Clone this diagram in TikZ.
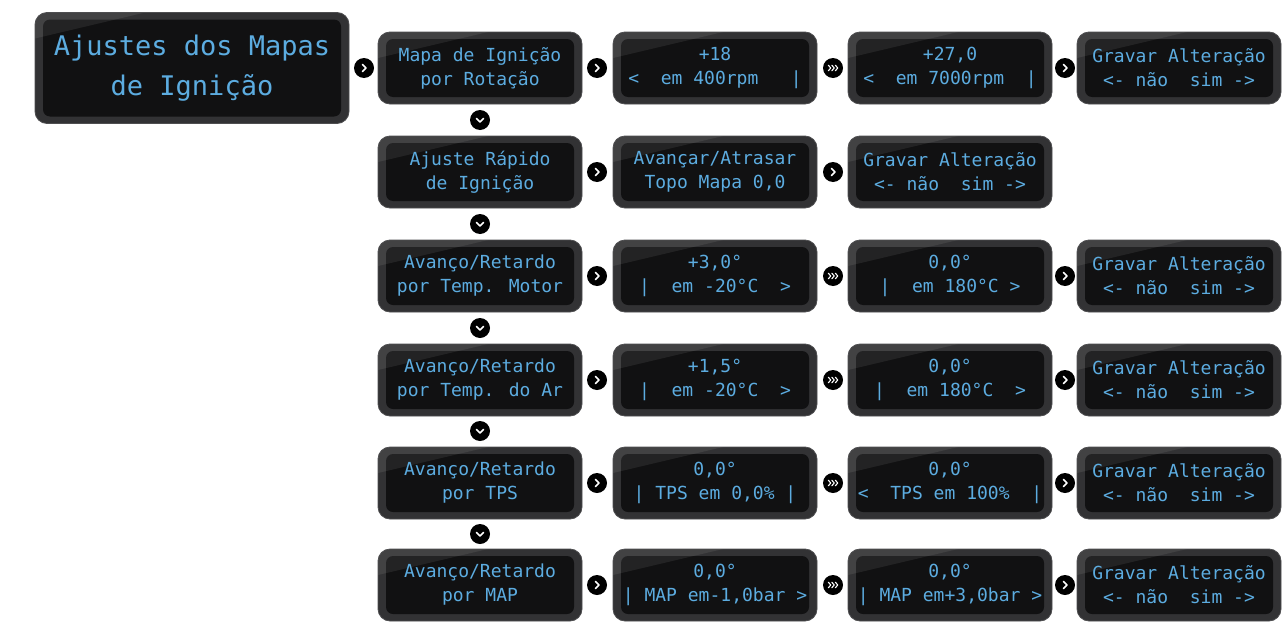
\documentclass[tikz,border=0pt]{standalone}
\usepackage{fontspec}
\newfontfamily\lcdfont{DejaVu Sans Mono}
\usetikzlibrary{positioning}

\definecolor{lcdblue}{RGB}{92,172,224}
\definecolor{screen}{RGB}{17,17,18}
\definecolor{bezel}{RGB}{50,50,52}
\definecolor{rim}{RGB}{78,78,80}

\begin{document}
\begin{tikzpicture}[x=1pt, y=-1pt,
    lcd/.style={rectangle, rounded corners=12pt, fill=bezel, draw=rim, line width=0.8pt,
        minimum width=204pt, minimum height=72pt, inner sep=0pt, align=center,
        text=lcdblue, font=\lcdfont\fontsize{18}{24}\selectfont,
        path picture={
            \fill[screen, rounded corners=7pt]
                ([shift={(8pt,-7pt)}]path picture bounding box.north west) rectangle
                ([shift={(-8pt,7pt)}]path picture bounding box.south east);
            \fill[white, opacity=0.08, sharp corners]
                (path picture bounding box.north west) --
                ([xshift=110pt]path picture bounding box.north west) --
                ([yshift=-26pt]path picture bounding box.north west) -- cycle;
        }},
    lcdbig/.style={lcd, minimum width=314pt, minimum height=111pt,
        font=\lcdfont\fontsize{27}{40}\selectfont},
    btn/.style={circle, fill=black, minimum size=20pt, inner sep=0pt},
    nxt/.style={btn, path picture={
        \draw[white, line width=1.5pt, line cap=round, line join=round]
            ([shift={(-1.5pt,3.5pt)}]path picture bounding box.center) --
            ([shift={(2pt,0pt)}]path picture bounding box.center) --
            ([shift={(-1.5pt,-3.5pt)}]path picture bounding box.center);}},
    fwd/.style={btn, path picture={
        \draw[white, line width=1.1pt, line cap=round, line join=round]
            ([shift={(-4.7pt,2.8pt)}]path picture bounding box.center) --
            ([shift={(-2.2pt,0pt)}]path picture bounding box.center) --
            ([shift={(-4.7pt,-2.8pt)}]path picture bounding box.center)
            ([shift={(-1.2pt,2.8pt)}]path picture bounding box.center) --
            ([shift={(1.3pt,0pt)}]path picture bounding box.center) --
            ([shift={(-1.2pt,-2.8pt)}]path picture bounding box.center)
            ([shift={(2.3pt,2.8pt)}]path picture bounding box.center) --
            ([shift={(4.8pt,0pt)}]path picture bounding box.center) --
            ([shift={(2.3pt,-2.8pt)}]path picture bounding box.center);}},
    dwn/.style={btn, path picture={
        \draw[white, line width=1.5pt, line cap=round, line join=round]
            ([shift={(-3.5pt,1.5pt)}]path picture bounding box.center) --
            ([shift={(0pt,-2pt)}]path picture bounding box.center) --
            ([shift={(3.5pt,1.5pt)}]path picture bounding box.center);}}]

    % --- grade da figura (px) ---
    \def\xA{480}   % coluna do menu
    \def\xB{715}   % primeiro valor
    \def\xC{950}   % segundo valor
    \def\xD{1179}  % gravar
    \def\gA{597}   % botoes entre colunas
    \def\gB{833}
    \def\gC{1065}
    \def\rA{68}  \def\rB{172} \def\rC{276}
    \def\rD{380} \def\rE{483} \def\rF{585}

    % --- area da figura ---
    \fill[white] (0,0) rectangle (1282,621);
    \useasboundingbox (0,0) rectangle (1282,621);

    % --- menu principal ---
    \node[lcdbig] (ajustes) at (192,\rA) {Ajustes dos Mapas\\de Ignição};
    \node[nxt] (bt0) at (364,\rA) {};

    % --- mapa por rotacao ---
    \node[lcd] (rot) at (\xA,\rA) {Mapa de Ignição\\por Rotação};
    \node[nxt] (bt1a) at (\gA,\rA) {};
    \node[lcd] (rotlo) at (\xB,\rA) {+18\\<~~em~400rpm~~~|};
    \node[fwd] (bt1b) at (\gB,\rA) {};
    \node[lcd] (rothi) at (\xC,\rA) {+27,0\\<~~em~7000rpm~~|};
    \node[nxt] (bt1c) at (\gC,\rA) {};
    \node[lcd] (rotsave) at (\xD,\rA) {Gravar Alteração\\<-~não~~sim~->};

    \node[dwn] (dn1) at (\xA,120) {};

    % --- ajuste rapido ---
    \node[lcd] (rapido) at (\xA,\rB) {Ajuste Rápido\\de Ignição};
    \node[nxt] (bt2a) at (\gA,\rB) {};
    \node[lcd] (rapidoval) at (\xB,\rB) {Avançar/Atrasar\\Topo Mapa 0,0};
    \node[nxt] (bt2b) at (\gB,\rB) {};
    \node[lcd] (rapidosave) at (\xC,\rB) {Gravar Alteração\\<-~não~~sim~->};

    \node[dwn] (dn2) at (\xA,224) {};

    % --- temperatura do motor ---
    \node[lcd] (motor) at (\xA,\rC) {Avanço/Retardo\\por Temp. Motor};
    \node[nxt] (bt3a) at (\gA,\rC) {};
    \node[lcd] (motorlo) at (\xB,\rC) {+3,0°\\|~~em~-20°C~~>};
    \node[fwd] (bt3b) at (\gB,\rC) {};
    \node[lcd] (motorhi) at (\xC,\rC) {0,0°\\|~~em~180°C~>};
    \node[nxt] (bt3c) at (\gC,\rC) {};
    \node[lcd] (motorsave) at (\xD,\rC) {Gravar Alteração\\<-~não~~sim~->};

    \node[dwn] (dn3) at (\xA,328) {};

    % --- temperatura do ar ---
    \node[lcd] (ar) at (\xA,\rD) {Avanço/Retardo\\por Temp. do Ar};
    \node[nxt] (bt4a) at (\gA,\rD) {};
    \node[lcd] (arlo) at (\xB,\rD) {+1,5°\\|~~em~-20°C~~>};
    \node[fwd] (bt4b) at (\gB,\rD) {};
    \node[lcd] (arhi) at (\xC,\rD) {0,0°\\|~~em~180°C~~>};
    \node[nxt] (bt4c) at (\gC,\rD) {};
    \node[lcd] (arsave) at (\xD,\rD) {Gravar Alteração\\<-~não~~sim~->};

    \node[dwn] (dn4) at (\xA,431) {};

    % --- TPS ---
    \node[lcd] (tps) at (\xA,\rE) {Avanço/Retardo\\por TPS};
    \node[nxt] (bt5a) at (\gA,\rE) {};
    \node[lcd] (tpslo) at (\xB,\rE) {0,0°\\|~TPS~em~0,0\%~|};
    \node[fwd] (bt5b) at (\gB,\rE) {};
    \node[lcd] (tpshi) at (\xC,\rE) {0,0°\\<~~TPS~em~100\%~~|};
    \node[nxt] (bt5c) at (\gC,\rE) {};
    \node[lcd] (tpssave) at (\xD,\rE) {Gravar Alteração\\<-~não~~sim~->};

    \node[dwn] (dn5) at (\xA,534) {};

    % --- MAP ---
    \node[lcd] (map) at (\xA,\rF) {Avanço/Retardo\\por MAP};
    \node[nxt] (bt6a) at (\gA,\rF) {};
    \node[lcd] (maplo) at (\xB,\rF) {0,0°\\|~MAP~em-1,0bar~>};
    \node[fwd] (bt6b) at (\gB,\rF) {};
    \node[lcd] (maphi) at (\xC,\rF) {0,0°\\|~MAP~em+3,0bar~>};
    \node[nxt] (bt6c) at (\gC,\rF) {};
    \node[lcd] (mapsave) at (\xD,\rF) {Gravar Alteração\\<-~não~~sim~->};

\end{tikzpicture}
\end{document}
